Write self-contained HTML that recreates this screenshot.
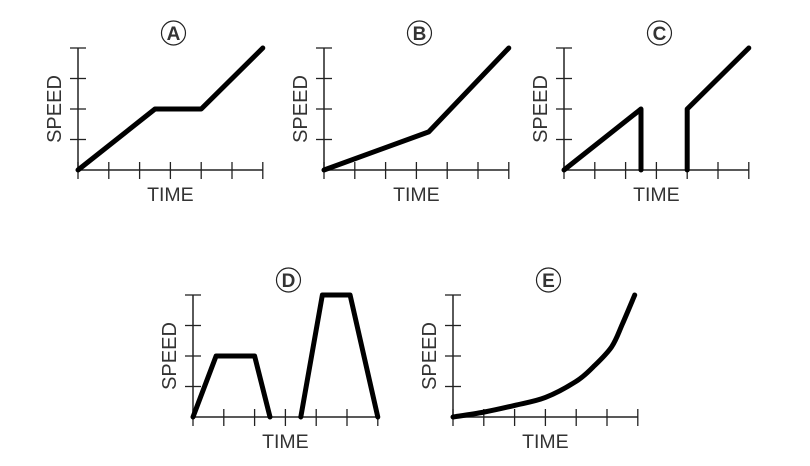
<!DOCTYPE html>
<html><head><meta charset="utf-8"><style>
html,body{margin:0;padding:0;background:#fff;}
svg{display:block;}
text{font-family:"Liberation Sans",Arial,sans-serif;fill:#333;}
</style></head><body>
<svg id="c" width="810" height="466" viewBox="0 0 810 466" xmlns="http://www.w3.org/2000/svg"></svg>
<script>
const chartIds = ["A","B","C","D","E"];
const originX = [78, 324, 564, 193, 453];
const originY = [170, 170, 170, 417, 417];
const xTickCount = 6;
const yTickCount = 4;
// series data (time units 0-6, speed units 0-4); segments separated
const seriesA = [[[0,0],[2.5,2],[4,2],[6,4]]];
const seriesB = [[[0,0],[3.4,1.25],[6,4]]];
const seriesC = [[[0,0],[2.5,2],[2.5,0]],[[4,0],[4,2],[6,4]]];
const seriesD = [[[0,0],[0.75,2],[2,2],[2.5,0]],[[3.5,0],[4.2,4],[5.1,4],[6,0]]];
const eTimes = [0,1,2,3,4,4.55,5.15,5.5,5.9];
const eSpeeds = [0,0.16,0.38,0.64,1.17,1.64,2.3,3.05,4];
const allSeries = [seriesA, seriesB, seriesC, seriesD, null];

const NS = "http://www.w3.org/2000/svg";
const svg = document.getElementById("c");
const DX = 30.8, DY = 30.5;
function mk(tag, attrs, parent){
  const e = document.createElementNS(NS, tag);
  for (const k in attrs) e.setAttribute(k, attrs[k]);
  (parent||svg).appendChild(e);
  return e;
}
chartIds.forEach((id, i) => {
  const ox = originX[i], oy = originY[i];
  const sx = t => ox + t * DX;
  const sy = v => oy - v * DY;
  const g = mk("g", {});
  
  
  const xa = mk("line", {x1:ox, y1:oy, x2:sx(xTickCount), y2:oy, stroke:"#222", "stroke-width":1.5}, g);
  
  
  const ya = mk("line", {x1:ox, y1:oy, x2:ox, y2:sy(yTickCount), stroke:"#222", "stroke-width":1.5}, g);
  
  
  for (let k = 0; k <= xTickCount; k++) {
    const t = mk("line", {x1:sx(k), y1:oy-8, x2:sx(k), y2:oy+9, stroke:"#222", "stroke-width":1.3}, g);
    
    
  }
  for (let k = 1; k <= yTickCount; k++) {
    const t = mk("line", {x1:ox-8, y1:sy(k), x2:ox+8, y2:sy(k), stroke:"#222", "stroke-width":1.3}, g);
    
    
  }
  const xt = mk("text", {x:sx(3), y:oy+31, "text-anchor":"middle", "font-size":19.5}, g);
  xt.textContent = "TIME";
  
  
  const yx = ox - 17, yy = sy(2);
  const yt = mk("text", {x:yx, y:yy, "text-anchor":"middle", "font-size":20, transform:`rotate(-90 ${yx} ${yy})`}, g);
  yt.textContent = "SPEED";
  
  
  const cx = sx(3.1), cy = sy(yTickCount) - 15;
  const circ = mk("circle", {cx:cx, cy:cy, r:12, fill:"none", stroke:"#222", "stroke-width":1.2}, g);
  
  
  const lt = mk("text", {x:cx, y:cy+7, "text-anchor":"middle", "font-size":19, "font-weight":"bold"}, g);
  lt.textContent = id;
  
  
  let segs = allSeries[i];
  if (!segs) segs = [eTimes.map((t, j) => [t, eSpeeds[j]])];
  segs.forEach(seg => {
    let d;
    if (id === "E") {
      const p = seg.map(q => [sx(q[0]), sy(q[1])]);
      d = "M" + p[0][0] + "," + p[0][1];
      for (let j = 0; j < p.length - 1; j++) {
        const p0 = p[Math.max(j-1,0)], p1 = p[j], p2 = p[j+1], p3 = p[Math.min(j+2,p.length-1)];
        const c1 = [p1[0] + (p2[0]-p0[0])/6, p1[1] + (p2[1]-p0[1])/6];
        const c2 = [p2[0] - (p3[0]-p1[0])/6, p2[1] - (p3[1]-p1[1])/6];
        d += ` C${c1[0]},${c1[1]} ${c2[0]},${c2[1]} ${p2[0]},${p2[1]}`;
      }
    } else {
      d = seg.map((q, j) => (j ? "L" : "M") + sx(q[0]) + "," + sy(q[1])).join(" ");
    }
    const path = mk("path", {d:d, fill:"none", stroke:"#000", "stroke-width":5, "stroke-linejoin":"round", "stroke-linecap":"round"}, g);
    
    
  });
});
</script>
</body></html>
